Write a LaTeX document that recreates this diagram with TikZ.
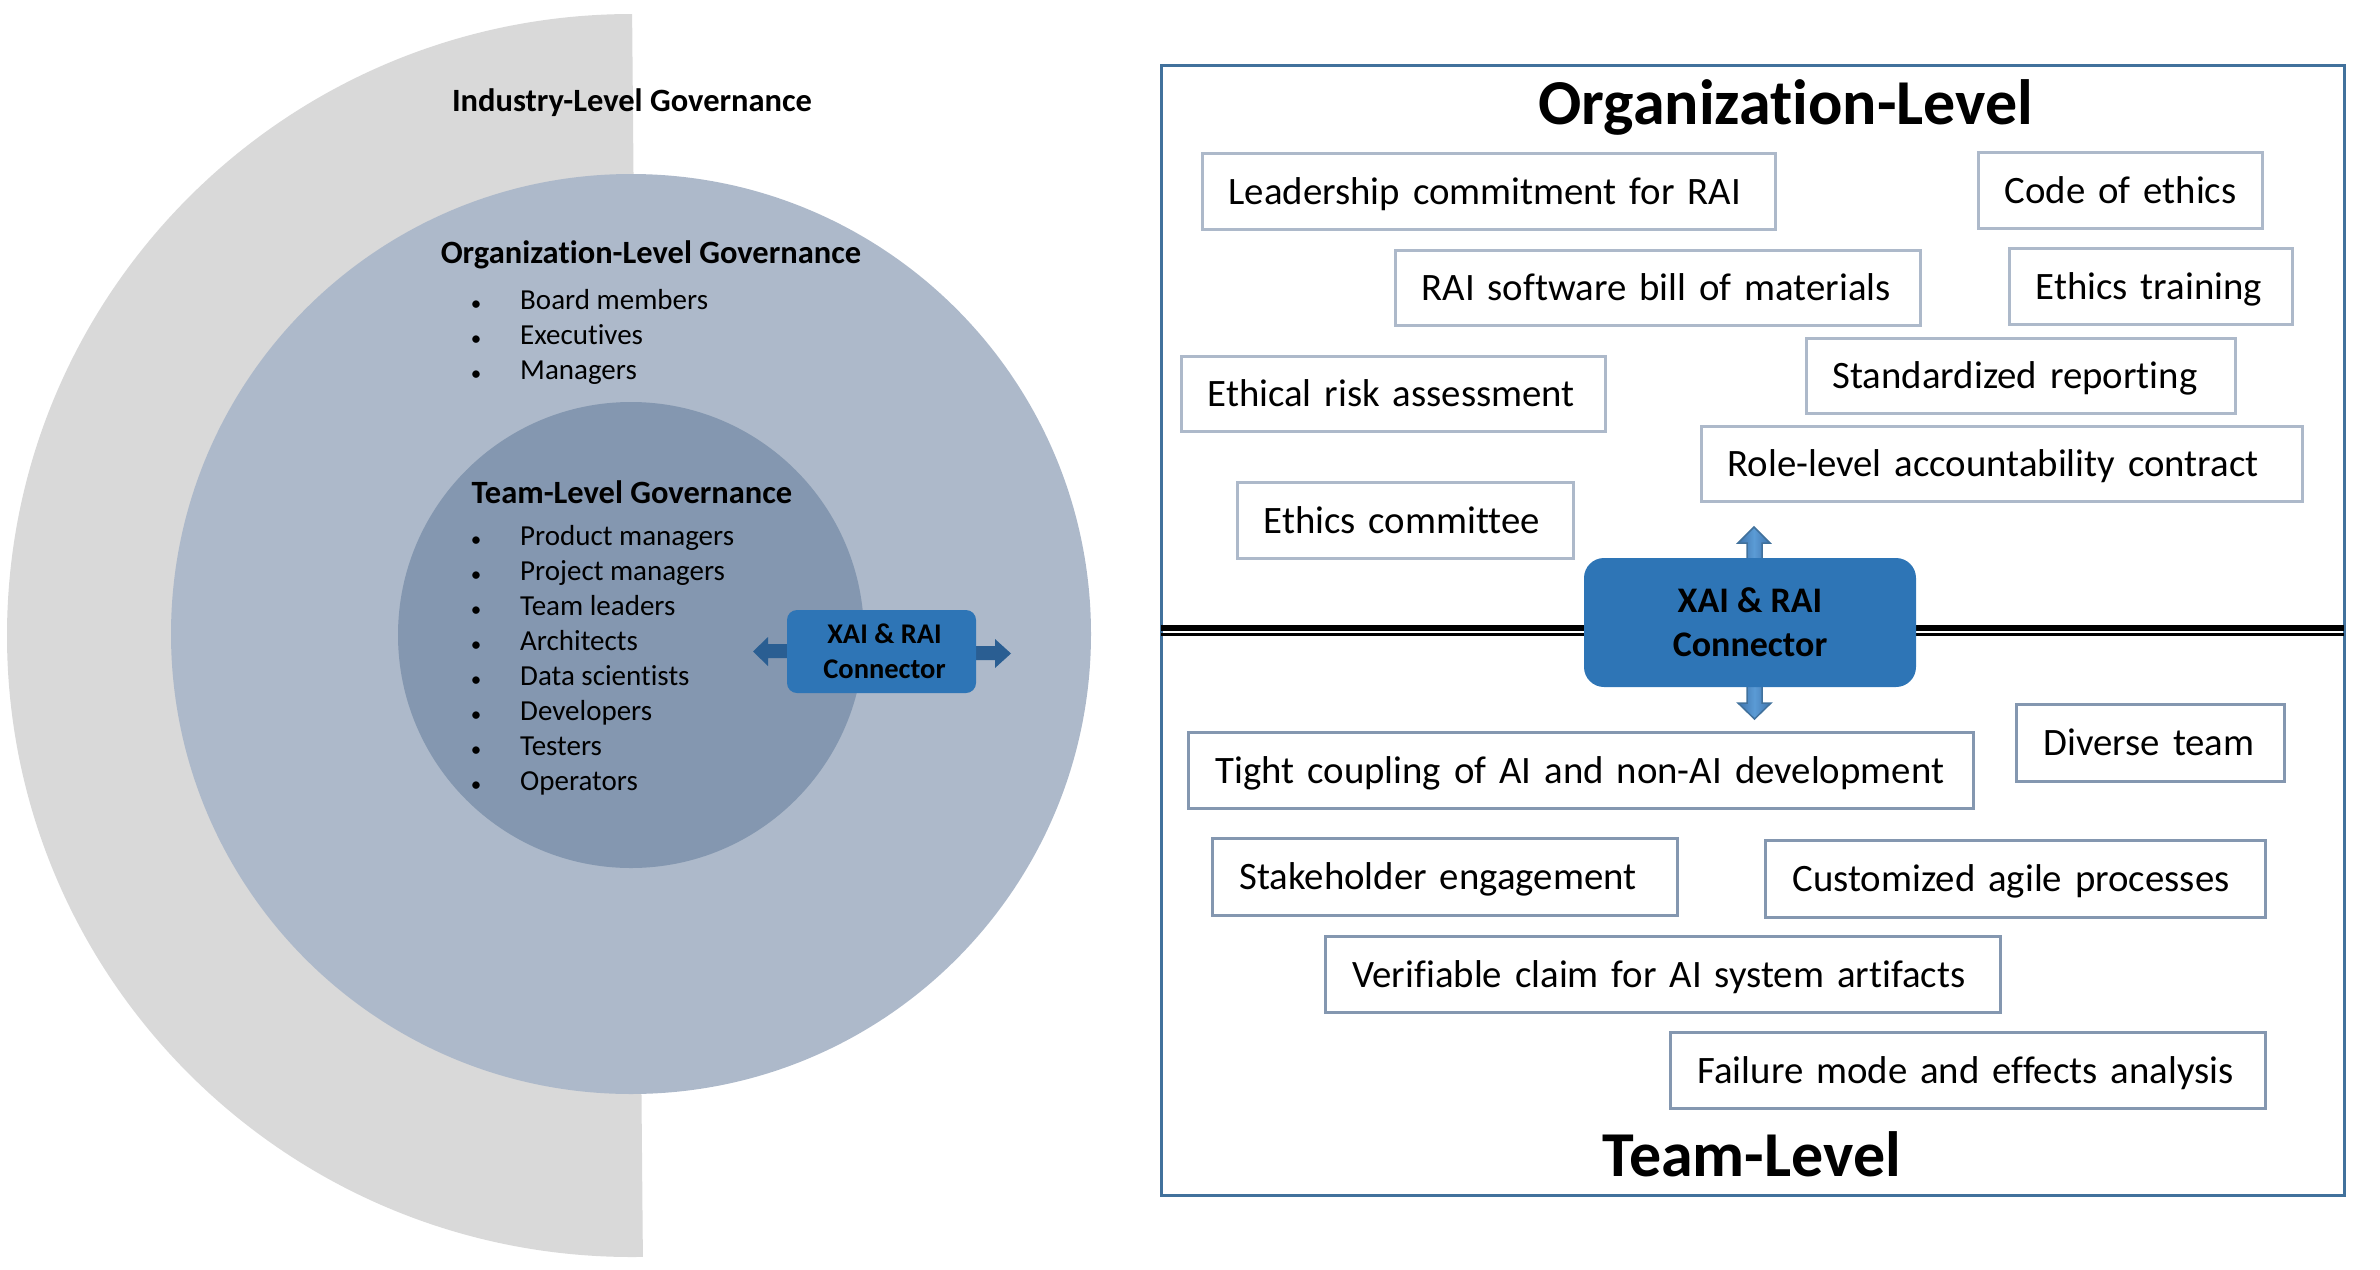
\documentclass[tikz,border=0pt]{standalone}
\usepackage{fontspec}
\setmainfont{Carlito}[Ligatures={NoCommon}]
\definecolor{indgray}{HTML}{D9D9D9}
\definecolor{orgfill}{HTML}{ADB9CA}
\definecolor{teamfill}{HTML}{8497B0}
\definecolor{connblue}{HTML}{2E75B6}
\definecolor{arrowdark}{HTML}{2A5E92}
\definecolor{framec}{HTML}{41719C}
\definecolor{oborder}{HTML}{ADB9CA}
\definecolor{tborder}{HTML}{8497B0}
\definecolor{arrlight}{HTML}{5B9BD5}
\definecolor{arrmid}{HTML}{3F74AD}
\begin{document}
\begin{tikzpicture}[x=1pt,y=1pt,
  ltitle/.style={font=\fontsize{32.5}{39}\selectfont\bfseries, anchor=base, inner sep=0pt},
  litem/.style={font=\fontsize{29}{35}\selectfont, anchor=base west, inner sep=0pt},
  lbullet/.style={font=\fontsize{21}{25}\selectfont, anchor=base, inner sep=0pt},
  bigtitle/.style={font=\fontsize{64}{77}\selectfont\bfseries, anchor=base, inner sep=0pt},
  pbox/.style={line width=3pt, anchor=north west, inner xsep=26pt, inner ysep=0pt, align=left,
     font=\fontsize{38.8}{46}\selectfont, text height=25pt, text depth=0pt},
  obox/.style={pbox, draw=oborder},
  tbox/.style={pbox, draw=tborder, inner xsep=27pt},
  conn/.style={fill=connblue, align=center, inner sep=0pt, text=black},
  blockarrow/.style={fill=arrowdark},
  vblockarrow/.style={draw=framec, line width=1.5pt, left color=arrmid, right color=arrmid, middle color=arrlight},
]
\useasboundingbox (0,0) rectangle (2380,-1269);
% ---------------- left: nested governance levels ----------------
\begin{scope}
  \clip (0,0) -- (632,0) -- (643,-1269) -- (0,-1269) -- cycle;
  \fill[indgray] (632,-635.5) ellipse [x radius=625pt, y radius=621.5pt];
\end{scope}
\fill[orgfill] (631,-634) circle [radius=460pt];
\fill[teamfill] (631,-635) circle [radius=233pt];

\node[ltitle] (indt) at (632,-111.5) {Industry-Level Governance};
\node[ltitle] (orgt) at (651,-263) {Organization-Level Governance};
\foreach \t [count=\i] in {Board members, Executives, Managers}{
  \node[lbullet] (ob\i) at (476,{-310-35.3*(\i-1)}) {•};
  \node[litem] (oi\i) at (520,{-309-35.3*(\i-1)}) {\t};
}
\node[ltitle] (teamt) at (632,-503) {Team-Level Governance};
\foreach \t [count=\i] in {Product managers, Project managers, Team leaders, Architects, Data scientists, Developers, Testers, Operators}{
  \node[lbullet] (tb\i) at (476,{-546-35.1*(\i-1)}) {•};
  \node[litem] (ti\i) at (520,{-545-35.1*(\i-1)}) {\t};
}
% left connector arrows
\fill[blockarrow] (787,-644) -- (768,-644) -- (768,-637) -- (753,-651.5) -- (768,-666) -- (768,-658) -- (787,-658) -- cycle;
\fill[blockarrow] (976,-646) -- (995,-646) -- (995,-639) -- (1011,-653.5) -- (995,-668) -- (995,-660) -- (976,-660) -- cycle;
\node[conn, rounded corners=10pt, minimum width=189pt, minimum height=83pt,
      font=\fontsize{28.5}{34.5}\selectfont\bfseries] (lconn) at (881.5,-651.5) {\hspace*{6pt}XAI \& RAI\\\hspace*{6pt}Connector};

% ---------------- right: organization / team level panel ----------------
\draw[framec, line width=3pt] (1161,-65) rectangle (2344,-1195);
\node[bigtitle] (orgL) at (1786,-124.5) {Organization-Level};
\node[bigtitle] (teamL) at (1752,-1176) {Team-Level};

\draw[line width=5.5pt] (1161,-627.8) -- (2344,-627.8);
\draw[line width=2.5pt] (1161,-634.6) -- (2344,-634.6);

\node[obox, text width=521pt, minimum height=76pt] (b1) at (1201,-152) {\mbox{Leadership commitment for RAI}};
\node[obox, text width=232pt, minimum height=76pt] (b2) at (1977,-151) {\mbox{Code of ethics}};
\node[obox, text width=473pt, minimum height=75pt] (b3) at (1394,-249) {\mbox{RAI software bill of materials}};
\node[obox, text width=231pt, minimum height=76pt] (b4) at (2008,-247) {\mbox{Ethics training}};
\node[obox, text width=377pt, minimum height=75pt] (b5) at (1805,-337) {\mbox{Standardized reporting}};
\node[obox, text width=372pt, minimum height=75pt] (b6) at (1180,-355) {\mbox{Ethical risk assessment}};
\node[obox, text width=549pt, minimum height=75pt] (b7) at (1700,-425) {\mbox{Role-level accountability contract}};
\node[obox, text width=284pt, minimum height=76pt] (b8) at (1236,-481) {\mbox{Ethics committee}};

\node[tbox, text width=731pt, minimum height=76pt] (t1) at (1187,-731) {\mbox{Tight coupling of AI and non-AI development}};
\node[tbox, text width=214pt, minimum height=77pt] (t2) at (2015,-703) {\mbox{Diverse team}};
\node[tbox, text width=411pt, minimum height=77pt] (t3) at (1211,-837) {\mbox{Stakeholder engagement}};
\node[tbox, text width=446pt, minimum height=77pt] (t4) at (1764,-839) {\mbox{Customized agile processes}};
\node[tbox, text width=621pt, minimum height=76pt] (t5) at (1324,-935) {\mbox{Verifiable claim for AI system artifacts}};
\node[tbox, text width=541pt, minimum height=76pt] (t6) at (1669,-1031) {\mbox{Failure mode and effects analysis}};

% right connector arrows
\path[vblockarrow] (1747,-560) -- (1747,-543) -- (1738,-543) -- (1754,-527) -- (1770,-543) -- (1762,-543) -- (1762,-560) -- cycle;
\path[vblockarrow] (1747,-685) -- (1747,-703) -- (1738,-703) -- (1754.5,-719) -- (1771,-703) -- (1762,-703) -- (1762,-685) -- cycle;
\node[conn, rounded corners=20pt, minimum width=332pt, minimum height=129pt,
      font=\fontsize{36}{44}\selectfont\bfseries] (rconn) at (1750,-622.5) {XAI \& RAI\\Connector};
\end{tikzpicture}
\end{document}
